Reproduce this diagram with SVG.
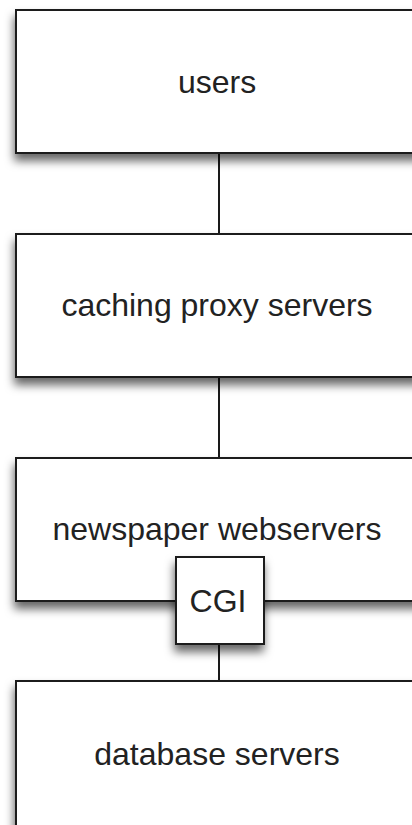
<svg xmlns="http://www.w3.org/2000/svg" width="412" height="825" viewBox="0 0 412 825">
<defs>
<style>
.box{fill:#fff;stroke:#1a1a1a;stroke-width:2;filter:url(#sh)}
.lbl{font-family:"Liberation Sans",Arial,sans-serif;font-size:32px;fill:#222;text-anchor:middle}
.con{stroke:#1a1a1a;stroke-width:2;fill:none}
</style>
<filter id="sh" x="-20%" y="-20%" width="140%" height="160%">
<feDropShadow dx="-1" dy="7" stdDeviation="5" flood-color="#000" flood-opacity="0.6"/>
</filter>
</defs>
<rect width="412" height="825" fill="#fff"/>
<g id="connectors">
<line class="con" x1="219" y1="153" x2="219" y2="234"/>
<line class="con" x1="219" y1="377" x2="219" y2="458"/>
<line class="con" x1="219" y1="644" x2="219" y2="681"/>
</g>
<g id="users">
<rect class="box" x="16" y="10" width="410" height="143"/>
<text class="lbl" x="217" y="93">users</text>
</g>
<g id="caching">
<rect class="box" x="16" y="234" width="410" height="143"/>
<text class="lbl" x="217" y="316">caching proxy servers</text>
</g>
<g id="webservers">
<rect class="box" x="16" y="458" width="410" height="143"/>
<text class="lbl" x="217" y="540">newspaper webservers</text>
</g>
<g id="cgi">
<rect class="box" x="176" y="557" width="88" height="87"/>
<text class="lbl" x="218" y="612">CGI</text>
</g>
<g id="database">
<rect class="box" x="16" y="681" width="410" height="160"/>
<text class="lbl" x="217" y="765">database servers</text>
</g>
</svg>
